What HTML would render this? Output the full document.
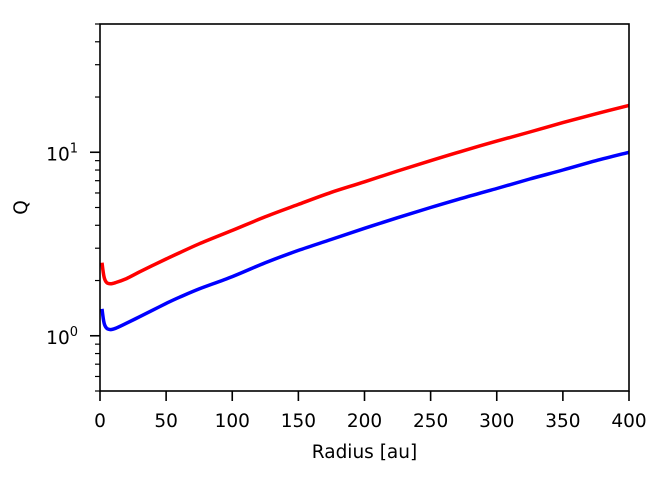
<!DOCTYPE html>
<html><head><meta charset="utf-8"><style>
body{margin:0;background:#fff}
svg{display:block;font-family:"DejaVu Sans","Liberation Sans",sans-serif}
</style></head><body>
<svg id="c" width="664" height="484"></svg>
<script>
const radii=[1.5,3,5,8,12,20,30,40,50,60,75,100,125,150,175,200,225,250,275,300,325,350,375,400];
const qRed=[2.5,2.1,1.95,1.92,1.95,2.05,2.23,2.42,2.62,2.83,3.17,3.75,4.45,5.2,6.05,6.9,7.9,9.0,10.2,11.5,12.9,14.5,16.2,18];
const qBlue=[1.4,1.18,1.1,1.08,1.1,1.17,1.27,1.38,1.5,1.62,1.8,2.1,2.5,2.92,3.35,3.85,4.4,5.0,5.65,6.35,7.15,8.0,9.0,10];
const xTicks=[0,50,100,150,200,250,300,350,400];
const yMajor=[1,10];
const yMinor=[0.5,0.6,0.7,0.8,0.9,2,3,4,5,6,7,8,9,20,30,40,50];
const L=100,R=629,T=24,B=391;
const X=v=>L+(v-0)/400*(R-L);
const Y=v=>B-(Math.log10(v)-Math.log10(0.5))/2*(B-T);
const ns="http://www.w3.org/2000/svg",svg=document.getElementById('c');
function mk(t,a,p){const e=document.createElementNS(ns,t);for(const k in a)e.setAttribute(k,a[k]);(p||svg).appendChild(e);return e;}
function series(vals,color,name){
  const P=radii.map((r,i)=>[X(r),Y(vals[i])]);
  let d='M'+P[0][0].toFixed(1)+','+P[0][1].toFixed(1);
  for(let i=0;i<P.length-1;i++){
    const p0=P[Math.max(i-1,0)],p1=P[i],p2=P[i+1],p3=P[Math.min(i+2,P.length-1)];
    const c1=[p1[0]+(p2[0]-p0[0])/6,p1[1]+(p2[1]-p0[1])/6];
    const c2=[p2[0]-(p3[0]-p1[0])/6,p2[1]-(p3[1]-p1[1])/6];
    d+='C'+c1.map(n=>n.toFixed(1)).join(',')+' '+c2.map(n=>n.toFixed(1)).join(',')+' '+p2.map(n=>n.toFixed(1)).join(',');
  }
  const p=mk('path',{d:d,fill:'none',stroke:color,'stroke-width':3.5,'stroke-linejoin':'round'});
  
  
}
series(qRed,'#ff0000','red-series');
series(qBlue,'#0000ff','blue-series');
const frame=mk('rect',{x:L,y:T,width:R-L,height:B-T,fill:'none',stroke:'#000','stroke-width':1.6});


xTicks.forEach(v=>{
  mk('line',{x1:X(v),x2:X(v),y1:B,y2:B+10,stroke:'#000','stroke-width':1.6});
  const t=mk('text',{x:X(v),y:427,'text-anchor':'middle','font-size':18.5});t.textContent=v;
  
  
});
yMinor.forEach(v=>{mk('line',{x1:L-5,x2:L,y1:Y(v),y2:Y(v),stroke:'#000','stroke-width':1.2});});
yMajor.forEach((v,i)=>{
  mk('line',{x1:L-10,x2:L,y1:Y(v),y2:Y(v),stroke:'#000','stroke-width':1.6});
  const t=mk('text',{x:L-22,y:Y(v)+8,'text-anchor':'end','font-size':18.5});
  
  
  t.textContent='10';
  const s=mk('tspan',{dy:-8,'font-size':13},t);s.textContent=String(i);
});
const xl=mk('text',{x:(L+R)/2,y:458,'text-anchor':'middle','font-size':18.5});xl.textContent='Radius [au]';


const yl=mk('text',{x:27,y:(T+B)/2,'text-anchor':'middle','font-size':18.5,transform:`rotate(-90 27 ${(T+B)/2})`});yl.textContent='Q';


</script>
</body></html>
